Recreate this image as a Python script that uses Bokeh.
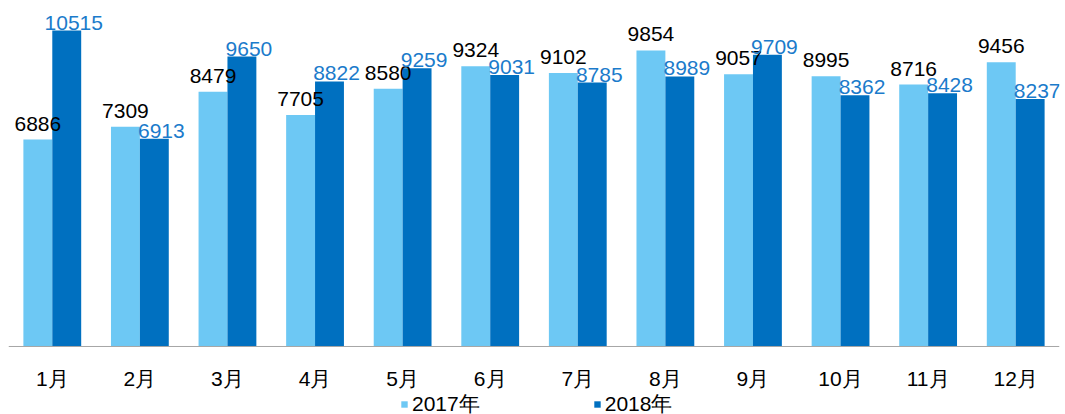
from bokeh.plotting import figure
from bokeh.models import ColumnDataSource, LabelSet, Legend, LegendItem, FactorRange, Span
from bokeh.core.properties import value
from bokeh.transform import dodge
from bokeh.embed import file_html
from bokeh.resources import INLINE

months = ["1月", "2月", "3月", "4月", "5月", "6月", "7月", "8月", "9月", "10月", "11月", "12月"]
y2017 = [6886, 7309, 8479, 7705, 8580, 9324, 9102, 9854, 9057, 8995, 8716, 9456]
y2018 = [10515, 6913, 9650, 8822, 9259, 9031, 8785, 8989, 9709, 8362, 8428, 8237]
series_names = ["2017年", "2018年"]

src = ColumnDataSource(dict(
    month=months, a=y2017, b=y2018, zero=[0] * len(months),
    la=[str(v) for v in y2017], lb=[str(v) for v in y2018],
))

FONT = "Liberation Sans"

p = figure(width=1065, height=414, x_range=FactorRange(*months), y_range=(-2263, 11248),
           output_backend="svg", toolbar_location=None,
           min_border_left=8, min_border_right=6, min_border_top=8, min_border_bottom=0)

r1 = p.vbar(x=dodge("month", -0.165, range=p.x_range), top="a", bottom=0, width=0.33,
            source=src, fill_color="#6DC8F4", line_color=None)
r2 = p.vbar(x=dodge("month", 0.165, range=p.x_range), top="b", bottom=0, width=0.33,
            source=src, fill_color="#0070C0", line_color=None)

# value labels
l1 = LabelSet(x=dodge("month", -0.165, range=p.x_range), y="a", text="la", source=src,
              x_offset=0, y_offset=9, text_align="center", text_baseline="alphabetic",
              text_font=value(FONT), text_font_size="21px", text_color="#000000")
l2 = LabelSet(x=dodge("month", 0.165, range=p.x_range), y="b", text="lb", source=src,
              x_offset=7, y_offset=1, text_align="center", text_baseline="alphabetic",
              text_font=value(FONT), text_font_size="21px", text_color="#1B7BCB")
p.add_layout(l1)
p.add_layout(l2)

# category axis (drawn at y = 0 inside the frame)
p.add_layout(Span(location=0, dimension="width", line_color="#A6A6A6", line_width=1))
lm = LabelSet(x="month", y="zero", text="month", source=src,
              y_offset=-40, text_align="center", text_baseline="alphabetic",
              text_font=value(FONT), text_font_size="21px", text_color="#000000")
p.add_layout(lm)

p.xaxis.visible = False
p.yaxis.visible = False
p.xgrid.visible = False
p.ygrid.visible = False
p.outline_line_color = None

legend = Legend(items=[LegendItem(label=series_names[0], renderers=[r1]),
                       LegendItem(label=series_names[1], renderers=[r2])],
                orientation="horizontal", location=(392, -4),
                spacing=113, glyph_width=8, glyph_height=8, label_standoff=4,
                label_text_font=FONT, label_text_font_size="21px", label_text_color="#000000",
                border_line_color=None, background_fill_alpha=0, padding=0, margin=0,
                label_height=20)
p.add_layout(legend)

open("out.html", "w").write(file_html(p, INLINE))
